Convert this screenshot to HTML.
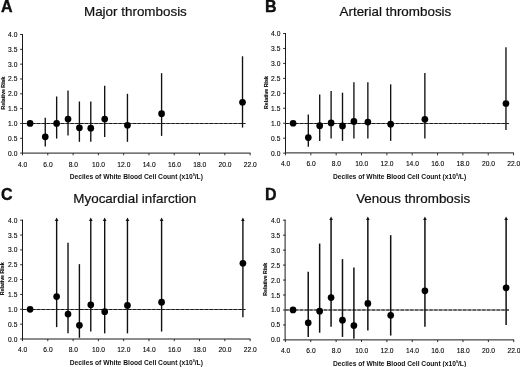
<!DOCTYPE html>
<html><head><meta charset="utf-8"><title>Figure</title>
<style>html,body{margin:0;padding:0;background:#fff}svg{display:block}</style></head>
<body>
<svg width="520" height="367" viewBox="0 0 520 367" fill="#111">
<rect width="520" height="367" fill="#fff"/>
<g id="panelA">
<text x="0.9" y="11.6" font-size="16" font-weight="bold" stroke="#000" stroke-width="0.35" font-family="Liberation Sans, sans-serif">A</text>
<text transform="translate(135.4 16) scale(1.04 1)" font-size="12.9" stroke="#111" stroke-width="0.2" text-anchor="middle" font-family="Liberation Sans, sans-serif">Major thrombosis</text>
<path d="M22.5 34V153.1H250.51" fill="none" stroke="#1a1a1a" stroke-width="1"/>
<text transform="translate(17.4 155.6) scale(1.045 1)" font-size="6.4" text-anchor="end" fill="#000" stroke="#000" stroke-width="0.1" font-family="Liberation Sans, sans-serif">0.0</text>
<text transform="translate(17.4 140.78) scale(1.045 1)" font-size="6.4" text-anchor="end" fill="#000" stroke="#000" stroke-width="0.1" font-family="Liberation Sans, sans-serif">0.5</text>
<text transform="translate(17.4 125.95) scale(1.045 1)" font-size="6.4" text-anchor="end" fill="#000" stroke="#000" stroke-width="0.1" font-family="Liberation Sans, sans-serif">1.0</text>
<text transform="translate(17.4 111.12) scale(1.045 1)" font-size="6.4" text-anchor="end" fill="#000" stroke="#000" stroke-width="0.1" font-family="Liberation Sans, sans-serif">1.5</text>
<text transform="translate(17.4 96.3) scale(1.045 1)" font-size="6.4" text-anchor="end" fill="#000" stroke="#000" stroke-width="0.1" font-family="Liberation Sans, sans-serif">2.0</text>
<text transform="translate(17.4 81.47) scale(1.045 1)" font-size="6.4" text-anchor="end" fill="#000" stroke="#000" stroke-width="0.1" font-family="Liberation Sans, sans-serif">2.5</text>
<text transform="translate(17.4 66.65) scale(1.045 1)" font-size="6.4" text-anchor="end" fill="#000" stroke="#000" stroke-width="0.1" font-family="Liberation Sans, sans-serif">3.0</text>
<text transform="translate(17.4 51.83) scale(1.045 1)" font-size="6.4" text-anchor="end" fill="#000" stroke="#000" stroke-width="0.1" font-family="Liberation Sans, sans-serif">3.5</text>
<text transform="translate(17.4 37) scale(1.045 1)" font-size="6.4" text-anchor="end" fill="#000" stroke="#000" stroke-width="0.1" font-family="Liberation Sans, sans-serif">4.0</text>
<text transform="translate(22.7 166.5) scale(1.045 1)" font-size="6.4" text-anchor="middle" fill="#000" stroke="#000" stroke-width="0.1" font-family="Liberation Sans, sans-serif">4.0</text>
<text transform="translate(47.99 166.5) scale(1.045 1)" font-size="6.4" text-anchor="middle" fill="#000" stroke="#000" stroke-width="0.1" font-family="Liberation Sans, sans-serif">6.0</text>
<text transform="translate(73.28 166.5) scale(1.045 1)" font-size="6.4" text-anchor="middle" fill="#000" stroke="#000" stroke-width="0.1" font-family="Liberation Sans, sans-serif">8.0</text>
<text transform="translate(98.57 166.5) scale(1.045 1)" font-size="6.4" text-anchor="middle" fill="#000" stroke="#000" stroke-width="0.1" font-family="Liberation Sans, sans-serif">10.0</text>
<text transform="translate(123.86 166.5) scale(1.045 1)" font-size="6.4" text-anchor="middle" fill="#000" stroke="#000" stroke-width="0.1" font-family="Liberation Sans, sans-serif">12.0</text>
<text transform="translate(149.15 166.5) scale(1.045 1)" font-size="6.4" text-anchor="middle" fill="#000" stroke="#000" stroke-width="0.1" font-family="Liberation Sans, sans-serif">14.0</text>
<text transform="translate(174.44 166.5) scale(1.045 1)" font-size="6.4" text-anchor="middle" fill="#000" stroke="#000" stroke-width="0.1" font-family="Liberation Sans, sans-serif">16.0</text>
<text transform="translate(199.73 166.5) scale(1.045 1)" font-size="6.4" text-anchor="middle" fill="#000" stroke="#000" stroke-width="0.1" font-family="Liberation Sans, sans-serif">18.0</text>
<text transform="translate(225.02 166.5) scale(1.045 1)" font-size="6.4" text-anchor="middle" fill="#000" stroke="#000" stroke-width="0.1" font-family="Liberation Sans, sans-serif">20.0</text>
<text transform="translate(250.31 166.5) scale(1.045 1)" font-size="6.4" text-anchor="middle" fill="#000" stroke="#000" stroke-width="0.1" font-family="Liberation Sans, sans-serif">22.0</text>
<path d="M20.1 153.1H22.5M20.1 138.28H22.5M20.1 123.45H22.5M20.1 108.62H22.5M20.1 93.8H22.5M20.1 78.97H22.5M20.1 64.15H22.5M20.1 49.33H22.5M20.1 34.5H22.5M22.5 153.1V155.3M47.79 153.1V155.3M73.08 153.1V155.3M98.37 153.1V155.3M123.66 153.1V155.3M148.95 153.1V155.3M174.24 153.1V155.3M199.53 153.1V155.3M224.82 153.1V155.3M250.11 153.1V155.3" stroke="#1a1a1a" stroke-width="0.9" fill="none"/>
<text transform="translate(4.5 93) rotate(-90)" font-size="5.3" font-weight="bold" stroke="#000" stroke-width="0.12" text-anchor="middle" font-family="Liberation Sans, sans-serif">Relative Risk</text>
<text x="136.31" y="179.15" font-size="6.7" font-weight="bold" text-anchor="middle" font-family="Liberation Sans, sans-serif">Deciles of White Blood Cell Count (x10<tspan dy="-2.7" font-size="3.7">9</tspan><tspan dy="2.7">/L)</tspan></text>
<path d="M22.5 123.5H245.42" stroke="#555" stroke-width="0.9" fill="none"/>
<path d="M22.5 123.5H245.42" stroke="#1a1a1a" stroke-width="1" stroke-dasharray="3.3 1.5" fill="none"/>
<circle cx="30.09" cy="123.45" r="3.35" fill="#000"/>
<path d="M45.26 146.58V117.82" stroke="#111" stroke-width="1.35"/>
<circle cx="45.26" cy="136.79" r="3.35" fill="#000"/>
<path d="M56.64 138.57V96.47" stroke="#111" stroke-width="1.35"/>
<circle cx="56.64" cy="123.45" r="3.35" fill="#000"/>
<path d="M68.02 135.46V90.54" stroke="#111" stroke-width="1.35"/>
<circle cx="68.02" cy="119.06" r="3.35" fill="#000"/>
<path d="M79.4 141.83V101.51" stroke="#111" stroke-width="1.35"/>
<circle cx="79.4" cy="127.84" r="3.35" fill="#000"/>
<path d="M90.78 141.83V101.51" stroke="#111" stroke-width="1.35"/>
<circle cx="90.78" cy="128.19" r="3.35" fill="#000"/>
<path d="M104.69 137.09V85.79" stroke="#111" stroke-width="1.35"/>
<circle cx="104.69" cy="119" r="3.35" fill="#000"/>
<path d="M127.45 141.83V93.8" stroke="#111" stroke-width="1.35"/>
<circle cx="127.45" cy="125.23" r="3.35" fill="#000"/>
<path d="M161.59 135.9V73.19" stroke="#111" stroke-width="1.35"/>
<circle cx="161.59" cy="113.67" r="3.35" fill="#000"/>
<path d="M242.52 127.6V56.29" stroke="#111" stroke-width="1.35"/>
<circle cx="242.52" cy="102.25" r="3.35" fill="#000"/>
</g>
<g id="panelB">
<text x="265" y="11.6" font-size="16" font-weight="bold" stroke="#000" stroke-width="0.35" font-family="Liberation Sans, sans-serif">B</text>
<text transform="translate(395.4 16) scale(1.04 1)" font-size="12.9" stroke="#111" stroke-width="0.2" text-anchor="middle" font-family="Liberation Sans, sans-serif">Arterial thrombosis</text>
<path d="M285.5 33V152.9H513.96" fill="none" stroke="#1a1a1a" stroke-width="1"/>
<text transform="translate(280.4 155.65) scale(1.045 1)" font-size="6.4" text-anchor="end" fill="#000" stroke="#000" stroke-width="0.1" font-family="Liberation Sans, sans-serif">0.0</text>
<text transform="translate(280.4 140.69) scale(1.045 1)" font-size="6.4" text-anchor="end" fill="#000" stroke="#000" stroke-width="0.1" font-family="Liberation Sans, sans-serif">0.5</text>
<text transform="translate(280.4 125.74) scale(1.045 1)" font-size="6.4" text-anchor="end" fill="#000" stroke="#000" stroke-width="0.1" font-family="Liberation Sans, sans-serif">1.0</text>
<text transform="translate(280.4 110.78) scale(1.045 1)" font-size="6.4" text-anchor="end" fill="#000" stroke="#000" stroke-width="0.1" font-family="Liberation Sans, sans-serif">1.5</text>
<text transform="translate(280.4 95.83) scale(1.045 1)" font-size="6.4" text-anchor="end" fill="#000" stroke="#000" stroke-width="0.1" font-family="Liberation Sans, sans-serif">2.0</text>
<text transform="translate(280.4 80.87) scale(1.045 1)" font-size="6.4" text-anchor="end" fill="#000" stroke="#000" stroke-width="0.1" font-family="Liberation Sans, sans-serif">2.5</text>
<text transform="translate(280.4 65.91) scale(1.045 1)" font-size="6.4" text-anchor="end" fill="#000" stroke="#000" stroke-width="0.1" font-family="Liberation Sans, sans-serif">3.0</text>
<text transform="translate(280.4 50.96) scale(1.045 1)" font-size="6.4" text-anchor="end" fill="#000" stroke="#000" stroke-width="0.1" font-family="Liberation Sans, sans-serif">3.5</text>
<text transform="translate(280.4 36) scale(1.045 1)" font-size="6.4" text-anchor="end" fill="#000" stroke="#000" stroke-width="0.1" font-family="Liberation Sans, sans-serif">4.0</text>
<text transform="translate(285.7 165.8) scale(1.045 1)" font-size="6.4" text-anchor="middle" fill="#000" stroke="#000" stroke-width="0.1" font-family="Liberation Sans, sans-serif">4.0</text>
<text transform="translate(311.04 165.8) scale(1.045 1)" font-size="6.4" text-anchor="middle" fill="#000" stroke="#000" stroke-width="0.1" font-family="Liberation Sans, sans-serif">6.0</text>
<text transform="translate(336.38 165.8) scale(1.045 1)" font-size="6.4" text-anchor="middle" fill="#000" stroke="#000" stroke-width="0.1" font-family="Liberation Sans, sans-serif">8.0</text>
<text transform="translate(361.72 165.8) scale(1.045 1)" font-size="6.4" text-anchor="middle" fill="#000" stroke="#000" stroke-width="0.1" font-family="Liberation Sans, sans-serif">10.0</text>
<text transform="translate(387.06 165.8) scale(1.045 1)" font-size="6.4" text-anchor="middle" fill="#000" stroke="#000" stroke-width="0.1" font-family="Liberation Sans, sans-serif">12.0</text>
<text transform="translate(412.4 165.8) scale(1.045 1)" font-size="6.4" text-anchor="middle" fill="#000" stroke="#000" stroke-width="0.1" font-family="Liberation Sans, sans-serif">14.0</text>
<text transform="translate(437.74 165.8) scale(1.045 1)" font-size="6.4" text-anchor="middle" fill="#000" stroke="#000" stroke-width="0.1" font-family="Liberation Sans, sans-serif">16.0</text>
<text transform="translate(463.08 165.8) scale(1.045 1)" font-size="6.4" text-anchor="middle" fill="#000" stroke="#000" stroke-width="0.1" font-family="Liberation Sans, sans-serif">18.0</text>
<text transform="translate(488.42 165.8) scale(1.045 1)" font-size="6.4" text-anchor="middle" fill="#000" stroke="#000" stroke-width="0.1" font-family="Liberation Sans, sans-serif">20.0</text>
<text transform="translate(513.76 165.8) scale(1.045 1)" font-size="6.4" text-anchor="middle" fill="#000" stroke="#000" stroke-width="0.1" font-family="Liberation Sans, sans-serif">22.0</text>
<path d="M283.1 153.15H285.5M283.1 138.19H285.5M283.1 123.24H285.5M283.1 108.28H285.5M283.1 93.33H285.5M283.1 78.37H285.5M283.1 63.41H285.5M283.1 48.46H285.5M283.1 33.5H285.5M285.5 153.15V155.35M310.84 153.15V155.35M336.18 153.15V155.35M361.52 153.15V155.35M386.86 153.15V155.35M412.2 153.15V155.35M437.54 153.15V155.35M462.88 153.15V155.35M488.22 153.15V155.35M513.56 153.15V155.35" stroke="#1a1a1a" stroke-width="0.9" fill="none"/>
<text transform="translate(267.5 92.53) rotate(-90)" font-size="5.3" font-weight="bold" stroke="#000" stroke-width="0.12" text-anchor="middle" font-family="Liberation Sans, sans-serif">Relative Risk</text>
<text x="399.53" y="179" font-size="6.7" font-weight="bold" text-anchor="middle" font-family="Liberation Sans, sans-serif">Deciles of White Blood Cell Count (x10<tspan dy="-2.7" font-size="3.7">9</tspan><tspan dy="2.7">/L)</tspan></text>
<path d="M285.5 123.5H508.86" stroke="#555" stroke-width="0.9" fill="none"/>
<path d="M285.5 123.5H508.86" stroke="#1a1a1a" stroke-width="1" stroke-dasharray="3.3 1.5" fill="none"/>
<circle cx="293.1" cy="123.24" r="3.35" fill="#000"/>
<path d="M308.31 146.87V114.56" stroke="#111" stroke-width="1.35"/>
<circle cx="308.31" cy="137.6" r="3.35" fill="#000"/>
<path d="M319.71 140.89V94.52" stroke="#111" stroke-width="1.35"/>
<circle cx="319.71" cy="125.63" r="3.35" fill="#000"/>
<path d="M331.11 138.49V90.93" stroke="#111" stroke-width="1.35"/>
<circle cx="331.11" cy="122.94" r="3.35" fill="#000"/>
<path d="M342.51 140.89V92.73" stroke="#111" stroke-width="1.35"/>
<circle cx="342.51" cy="125.93" r="3.35" fill="#000"/>
<path d="M353.92 138.49V82.26" stroke="#111" stroke-width="1.35"/>
<circle cx="353.92" cy="121.44" r="3.35" fill="#000"/>
<path d="M367.86 138.49V82.26" stroke="#111" stroke-width="1.35"/>
<circle cx="367.86" cy="122.04" r="3.35" fill="#000"/>
<path d="M390.66 140.89V84.35" stroke="#111" stroke-width="1.35"/>
<circle cx="390.66" cy="124.13" r="3.35" fill="#000"/>
<path d="M424.87 138.49V72.98" stroke="#111" stroke-width="1.35"/>
<circle cx="424.87" cy="119.35" r="3.35" fill="#000"/>
<path d="M505.96 130.12V47.26" stroke="#111" stroke-width="1.35"/>
<circle cx="505.96" cy="103.5" r="3.35" fill="#000"/>
</g>
<g id="panelC">
<text x="1.1" y="199.7" font-size="16" font-weight="bold" stroke="#000" stroke-width="0.35" font-family="Liberation Sans, sans-serif">C</text>
<text transform="translate(134.8 202.5) scale(1.04 1)" font-size="12.9" stroke="#111" stroke-width="0.2" text-anchor="middle" font-family="Liberation Sans, sans-serif">Myocardial infarction</text>
<path d="M22.5 219.7V339H250.51" fill="none" stroke="#1a1a1a" stroke-width="1"/>
<text transform="translate(17.4 341.5) scale(1.045 1)" font-size="6.4" text-anchor="end" fill="#000" stroke="#000" stroke-width="0.1" font-family="Liberation Sans, sans-serif">0.0</text>
<text transform="translate(17.4 326.65) scale(1.045 1)" font-size="6.4" text-anchor="end" fill="#000" stroke="#000" stroke-width="0.1" font-family="Liberation Sans, sans-serif">0.5</text>
<text transform="translate(17.4 311.8) scale(1.045 1)" font-size="6.4" text-anchor="end" fill="#000" stroke="#000" stroke-width="0.1" font-family="Liberation Sans, sans-serif">1.0</text>
<text transform="translate(17.4 296.95) scale(1.045 1)" font-size="6.4" text-anchor="end" fill="#000" stroke="#000" stroke-width="0.1" font-family="Liberation Sans, sans-serif">1.5</text>
<text transform="translate(17.4 282.1) scale(1.045 1)" font-size="6.4" text-anchor="end" fill="#000" stroke="#000" stroke-width="0.1" font-family="Liberation Sans, sans-serif">2.0</text>
<text transform="translate(17.4 267.25) scale(1.045 1)" font-size="6.4" text-anchor="end" fill="#000" stroke="#000" stroke-width="0.1" font-family="Liberation Sans, sans-serif">2.5</text>
<text transform="translate(17.4 252.4) scale(1.045 1)" font-size="6.4" text-anchor="end" fill="#000" stroke="#000" stroke-width="0.1" font-family="Liberation Sans, sans-serif">3.0</text>
<text transform="translate(17.4 237.55) scale(1.045 1)" font-size="6.4" text-anchor="end" fill="#000" stroke="#000" stroke-width="0.1" font-family="Liberation Sans, sans-serif">3.5</text>
<text transform="translate(17.4 222.7) scale(1.045 1)" font-size="6.4" text-anchor="end" fill="#000" stroke="#000" stroke-width="0.1" font-family="Liberation Sans, sans-serif">4.0</text>
<text transform="translate(22.7 351.7) scale(1.045 1)" font-size="6.4" text-anchor="middle" fill="#000" stroke="#000" stroke-width="0.1" font-family="Liberation Sans, sans-serif">4.0</text>
<text transform="translate(47.99 351.7) scale(1.045 1)" font-size="6.4" text-anchor="middle" fill="#000" stroke="#000" stroke-width="0.1" font-family="Liberation Sans, sans-serif">6.0</text>
<text transform="translate(73.28 351.7) scale(1.045 1)" font-size="6.4" text-anchor="middle" fill="#000" stroke="#000" stroke-width="0.1" font-family="Liberation Sans, sans-serif">8.0</text>
<text transform="translate(98.57 351.7) scale(1.045 1)" font-size="6.4" text-anchor="middle" fill="#000" stroke="#000" stroke-width="0.1" font-family="Liberation Sans, sans-serif">10.0</text>
<text transform="translate(123.86 351.7) scale(1.045 1)" font-size="6.4" text-anchor="middle" fill="#000" stroke="#000" stroke-width="0.1" font-family="Liberation Sans, sans-serif">12.0</text>
<text transform="translate(149.15 351.7) scale(1.045 1)" font-size="6.4" text-anchor="middle" fill="#000" stroke="#000" stroke-width="0.1" font-family="Liberation Sans, sans-serif">14.0</text>
<text transform="translate(174.44 351.7) scale(1.045 1)" font-size="6.4" text-anchor="middle" fill="#000" stroke="#000" stroke-width="0.1" font-family="Liberation Sans, sans-serif">16.0</text>
<text transform="translate(199.73 351.7) scale(1.045 1)" font-size="6.4" text-anchor="middle" fill="#000" stroke="#000" stroke-width="0.1" font-family="Liberation Sans, sans-serif">18.0</text>
<text transform="translate(225.02 351.7) scale(1.045 1)" font-size="6.4" text-anchor="middle" fill="#000" stroke="#000" stroke-width="0.1" font-family="Liberation Sans, sans-serif">20.0</text>
<text transform="translate(250.31 351.7) scale(1.045 1)" font-size="6.4" text-anchor="middle" fill="#000" stroke="#000" stroke-width="0.1" font-family="Liberation Sans, sans-serif">22.0</text>
<path d="M20.1 339H22.5M20.1 324.15H22.5M20.1 309.3H22.5M20.1 294.45H22.5M20.1 279.6H22.5M20.1 264.75H22.5M20.1 249.9H22.5M20.1 235.05H22.5M20.1 220.2H22.5M22.5 339V341.2M47.79 339V341.2M73.08 339V341.2M98.37 339V341.2M123.66 339V341.2M148.95 339V341.2M174.24 339V341.2M199.53 339V341.2M224.82 339V341.2M250.11 339V341.2" stroke="#1a1a1a" stroke-width="0.9" fill="none"/>
<text transform="translate(4.2 278.8) rotate(-90)" font-size="5.3" font-weight="bold" stroke="#000" stroke-width="0.12" text-anchor="middle" font-family="Liberation Sans, sans-serif">Relative Risk</text>
<text x="136.31" y="364.9" font-size="6.7" font-weight="bold" text-anchor="middle" font-family="Liberation Sans, sans-serif">Deciles of White Blood Cell Count (x10<tspan dy="-2.7" font-size="3.7">9</tspan><tspan dy="2.7">/L)</tspan></text>
<path d="M22.5 309.5H245.42" stroke="#555" stroke-width="0.9" fill="none"/>
<path d="M22.5 309.5H245.42" stroke="#1a1a1a" stroke-width="1" stroke-dasharray="3.3 1.5" fill="none"/>
<circle cx="30.09" cy="309.3" r="3.35" fill="#000"/>
<path d="M56.64 327.12V220.2" stroke="#111" stroke-width="1.4"/>
<path d="M54.84 220.95L56.64 217.4L58.44 220.95Z" fill="#111"/>
<circle cx="56.64" cy="296.53" r="3.35" fill="#000"/>
<path d="M68.02 333.36V242.77" stroke="#111" stroke-width="1.4"/>
<circle cx="68.02" cy="314.05" r="3.35" fill="#000"/>
<path d="M79.4 337.81V264.16" stroke="#111" stroke-width="1.4"/>
<circle cx="79.4" cy="325.34" r="3.35" fill="#000"/>
<path d="M90.78 331.57V220.2" stroke="#111" stroke-width="1.4"/>
<path d="M88.98 220.95L90.78 217.4L92.58 220.95Z" fill="#111"/>
<circle cx="90.78" cy="304.85" r="3.35" fill="#000"/>
<path d="M104.69 333.36V220.2" stroke="#111" stroke-width="1.4"/>
<path d="M102.89 220.95L104.69 217.4L106.49 220.95Z" fill="#111"/>
<circle cx="104.69" cy="311.68" r="3.35" fill="#000"/>
<path d="M127.45 333.36V220.2" stroke="#111" stroke-width="1.4"/>
<path d="M125.65 220.95L127.45 217.4L129.25 220.95Z" fill="#111"/>
<circle cx="127.45" cy="305.44" r="3.35" fill="#000"/>
<path d="M161.59 331.57V220.2" stroke="#111" stroke-width="1.4"/>
<path d="M159.79 220.95L161.59 217.4L163.4 220.95Z" fill="#111"/>
<circle cx="161.59" cy="302.17" r="3.35" fill="#000"/>
<path d="M242.9 317.32V220.2" stroke="#111" stroke-width="1.4"/>
<path d="M241.1 220.95L242.9 217.4L244.7 220.95Z" fill="#111"/>
<circle cx="242.9" cy="263.26" r="3.35" fill="#000"/>
</g>
<g id="panelD">
<text x="265" y="199.6" font-size="16" font-weight="bold" stroke="#000" stroke-width="0.35" font-family="Liberation Sans, sans-serif">D</text>
<text transform="translate(413.2 202.5) scale(1.04 1)" font-size="12.9" stroke="#111" stroke-width="0.2" text-anchor="middle" font-family="Liberation Sans, sans-serif">Venous thrombosis</text>
<path d="M285.1 219.7V339.9H514.13" fill="none" stroke="#1a1a1a" stroke-width="1"/>
<text transform="translate(280.3 342.4) scale(1.045 1)" font-size="6.4" text-anchor="end" fill="#000" stroke="#000" stroke-width="0.1" font-family="Liberation Sans, sans-serif">0.0</text>
<text transform="translate(280.3 327.44) scale(1.045 1)" font-size="6.4" text-anchor="end" fill="#000" stroke="#000" stroke-width="0.1" font-family="Liberation Sans, sans-serif">0.5</text>
<text transform="translate(280.3 312.47) scale(1.045 1)" font-size="6.4" text-anchor="end" fill="#000" stroke="#000" stroke-width="0.1" font-family="Liberation Sans, sans-serif">1.0</text>
<text transform="translate(280.3 297.51) scale(1.045 1)" font-size="6.4" text-anchor="end" fill="#000" stroke="#000" stroke-width="0.1" font-family="Liberation Sans, sans-serif">1.5</text>
<text transform="translate(280.3 282.55) scale(1.045 1)" font-size="6.4" text-anchor="end" fill="#000" stroke="#000" stroke-width="0.1" font-family="Liberation Sans, sans-serif">2.0</text>
<text transform="translate(280.3 267.59) scale(1.045 1)" font-size="6.4" text-anchor="end" fill="#000" stroke="#000" stroke-width="0.1" font-family="Liberation Sans, sans-serif">2.5</text>
<text transform="translate(280.3 252.62) scale(1.045 1)" font-size="6.4" text-anchor="end" fill="#000" stroke="#000" stroke-width="0.1" font-family="Liberation Sans, sans-serif">3.0</text>
<text transform="translate(280.3 237.66) scale(1.045 1)" font-size="6.4" text-anchor="end" fill="#000" stroke="#000" stroke-width="0.1" font-family="Liberation Sans, sans-serif">3.5</text>
<text transform="translate(280.3 222.7) scale(1.045 1)" font-size="6.4" text-anchor="end" fill="#000" stroke="#000" stroke-width="0.1" font-family="Liberation Sans, sans-serif">4.0</text>
<text transform="translate(285.6 352.6) scale(1.045 1)" font-size="6.4" text-anchor="middle" fill="#000" stroke="#000" stroke-width="0.1" font-family="Liberation Sans, sans-serif">4.0</text>
<text transform="translate(310.97 352.6) scale(1.045 1)" font-size="6.4" text-anchor="middle" fill="#000" stroke="#000" stroke-width="0.1" font-family="Liberation Sans, sans-serif">6.0</text>
<text transform="translate(336.34 352.6) scale(1.045 1)" font-size="6.4" text-anchor="middle" fill="#000" stroke="#000" stroke-width="0.1" font-family="Liberation Sans, sans-serif">8.0</text>
<text transform="translate(361.71 352.6) scale(1.045 1)" font-size="6.4" text-anchor="middle" fill="#000" stroke="#000" stroke-width="0.1" font-family="Liberation Sans, sans-serif">10.0</text>
<text transform="translate(387.08 352.6) scale(1.045 1)" font-size="6.4" text-anchor="middle" fill="#000" stroke="#000" stroke-width="0.1" font-family="Liberation Sans, sans-serif">12.0</text>
<text transform="translate(412.45 352.6) scale(1.045 1)" font-size="6.4" text-anchor="middle" fill="#000" stroke="#000" stroke-width="0.1" font-family="Liberation Sans, sans-serif">14.0</text>
<text transform="translate(437.82 352.6) scale(1.045 1)" font-size="6.4" text-anchor="middle" fill="#000" stroke="#000" stroke-width="0.1" font-family="Liberation Sans, sans-serif">16.0</text>
<text transform="translate(463.19 352.6) scale(1.045 1)" font-size="6.4" text-anchor="middle" fill="#000" stroke="#000" stroke-width="0.1" font-family="Liberation Sans, sans-serif">18.0</text>
<text transform="translate(488.56 352.6) scale(1.045 1)" font-size="6.4" text-anchor="middle" fill="#000" stroke="#000" stroke-width="0.1" font-family="Liberation Sans, sans-serif">20.0</text>
<text transform="translate(513.93 352.6) scale(1.045 1)" font-size="6.4" text-anchor="middle" fill="#000" stroke="#000" stroke-width="0.1" font-family="Liberation Sans, sans-serif">22.0</text>
<path d="M283 339.9H285.4M283 324.94H285.4M283 309.97H285.4M283 295.01H285.4M283 280.05H285.4M283 265.09H285.4M283 250.12H285.4M283 235.16H285.4M283 220.2H285.4M285.4 339.9V342.1M310.77 339.9V342.1M336.14 339.9V342.1M361.51 339.9V342.1M386.88 339.9V342.1M412.25 339.9V342.1M437.62 339.9V342.1M462.99 339.9V342.1M488.36 339.9V342.1M513.73 339.9V342.1" stroke="#1a1a1a" stroke-width="0.9" fill="none"/>
<text transform="translate(267.2 279.25) rotate(-90)" font-size="5.3" font-weight="bold" stroke="#000" stroke-width="0.12" text-anchor="middle" font-family="Liberation Sans, sans-serif">Relative Risk</text>
<text x="399.56" y="365.7" font-size="6.7" font-weight="bold" text-anchor="middle" font-family="Liberation Sans, sans-serif">Deciles of White Blood Cell Count (x10<tspan dy="-2.7" font-size="3.7">9</tspan><tspan dy="2.7">/L)</tspan></text>
<path d="M285.4 310H509.02" stroke="#555" stroke-width="0.9" fill="none"/>
<path d="M285.4 310H509.02" stroke="#1a1a1a" stroke-width="1" stroke-dasharray="3.3 1.5" fill="none"/>
<circle cx="293.01" cy="309.97" r="3.35" fill="#000"/>
<path d="M308.23 336.91V271.67" stroke="#111" stroke-width="1.5"/>
<circle cx="308.23" cy="322.84" r="3.35" fill="#000"/>
<path d="M319.65 332.72V243.54" stroke="#111" stroke-width="1.5"/>
<circle cx="319.65" cy="311.17" r="3.35" fill="#000"/>
<path d="M331.07 326.73V219.2" stroke="#111" stroke-width="1.5"/>
<path d="M329.27 219.95L331.07 216.4L332.87 219.95Z" fill="#111"/>
<circle cx="331.07" cy="297.56" r="3.35" fill="#000"/>
<path d="M342.48 336.91V259.1" stroke="#111" stroke-width="1.5"/>
<circle cx="342.48" cy="320.15" r="3.35" fill="#000"/>
<path d="M353.9 338.7V267.48" stroke="#111" stroke-width="1.5"/>
<circle cx="353.9" cy="325.54" r="3.35" fill="#000"/>
<path d="M367.85 330.47V219.2" stroke="#111" stroke-width="1.5"/>
<path d="M366.05 219.95L367.85 216.4L369.65 219.95Z" fill="#111"/>
<circle cx="367.85" cy="303.39" r="3.35" fill="#000"/>
<path d="M390.69 335.56V235.16" stroke="#111" stroke-width="1.5"/>
<circle cx="390.69" cy="315.36" r="3.35" fill="#000"/>
<path d="M424.93 326.73V219.2" stroke="#111" stroke-width="1.5"/>
<path d="M423.13 219.95L424.93 216.4L426.73 219.95Z" fill="#111"/>
<circle cx="424.93" cy="290.82" r="3.35" fill="#000"/>
<path d="M506.12 324.94V219.2" stroke="#111" stroke-width="1.5"/>
<path d="M504.32 219.95L506.12 216.4L507.92 219.95Z" fill="#111"/>
<circle cx="506.12" cy="287.83" r="3.35" fill="#000"/>
</g>
</svg>
</body></html>
